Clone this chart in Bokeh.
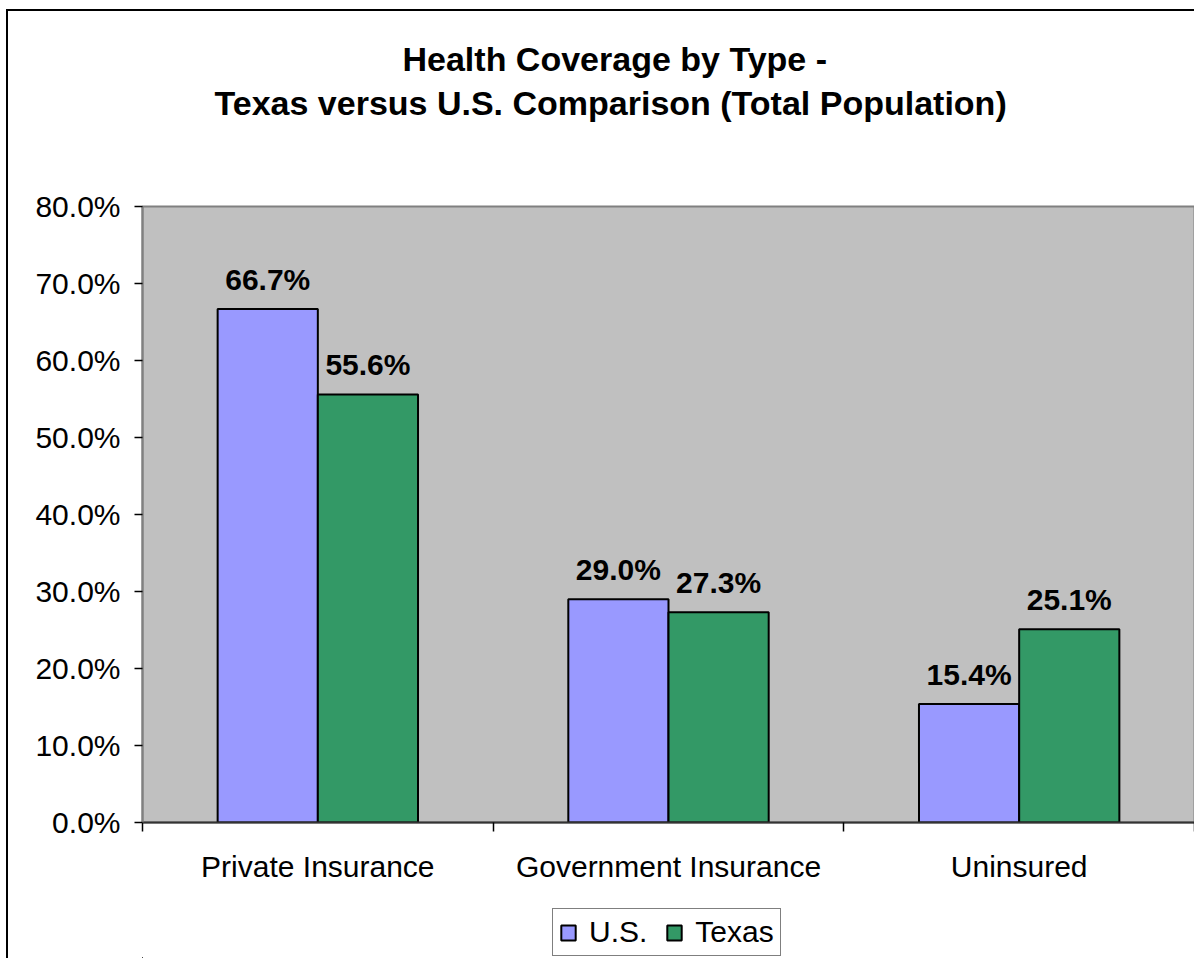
from bokeh.core.properties import value
from bokeh.plotting import figure
from bokeh.layouts import column
from bokeh.models import (ColumnDataSource, Range1d, FixedTicker, NumeralTickFormatter,
                          LabelSet, Legend, LegendItem, Title)
from bokeh.transform import dodge
from bokeh.embed import file_html
from bokeh.resources import INLINE

# ---------------- data ----------------
categories = ["Private Insurance", "Government Insurance", "Uninsured"]
series_names = ["U.S.", "Texas"]
us_values = [0.667, 0.290, 0.154]
texas_values = [0.556, 0.273, 0.251]
y_tick_values = [0.0, 0.1, 0.2, 0.3, 0.4, 0.5, 0.6, 0.7, 0.8]
title_lines = ["Health Coverage by Type -",
               "Texas versus U.S. Comparison (Total Population)"]

US_COLOR = "#9999FF"
TX_COLOR = "#339966"
FONT = "Liberation Sans"
BAR_STYLE = dict(line_color="black", line_width=2)

n = len(categories)
centers = [i + 0.5 for i in range(n)]
boundaries = [float(i) for i in range(n + 1)]
bar_w = 1 / 3.5

src = ColumnDataSource(dict(
    x=centers, cat=categories, us=us_values, tx=texas_values,
    us_lab=[f"{v * 100:.1f}%" for v in us_values],
    tx_lab=[f"{v * 100:.1f}%" for v in texas_values],
))

# ---------------- main chart ----------------
p = figure(width=1194, height=881, title=None,
           x_range=Range1d(0, n), y_range=Range1d(0, y_tick_values[-1]),
           output_backend="svg", toolbar_location=None,
           min_border_left=134, min_border_right=8,
           min_border_top=195, min_border_bottom=70)
# chart-area border: only its left and top edges are visible, slightly inset
p.styles = {"border-left": "6px solid white", "border-top": "9px solid white",
            "padding-left": "2px", "padding-top": "2px",
            "box-shadow": "inset 2px 2px 0 0 black"}

p.background_fill_color = "#C0C0C0"
p.border_fill_color = "white"
p.outline_line_color = "#808080"
p.outline_line_width = 2
p.xgrid.visible = False
p.ygrid.visible = False

# bars
p.vbar(x=dodge("x", -bar_w / 2), top="us", width=bar_w, source=src,
       fill_color=US_COLOR, **BAR_STYLE)
p.vbar(x=dodge("x", bar_w / 2), top="tx", width=bar_w, source=src,
       fill_color=TX_COLOR, **BAR_STYLE)

# data labels
for ycol, tcol, off in (("us", "us_lab", -bar_w / 2), ("tx", "tx_lab", bar_w / 2)):
    p.add_layout(LabelSet(x=dodge("x", off), y=ycol, text=tcol, source=src,
                          text_align="center", text_baseline="alphabetic", y_offset=19,
                          text_font=value(FONT), text_font_size="30px",
                          text_font_style="bold", text_color="black"))

# y axis
yax = p.yaxis[0]
yax.ticker = FixedTicker(ticks=y_tick_values, minor_ticks=[])
yax.formatter = NumeralTickFormatter(format="0.0%")
yax.axis_line_color = "#808080"
yax.axis_line_width = 2
yax.major_tick_line_color = "black"
yax.major_tick_line_width = 1.5
yax.major_tick_out = 8
yax.major_tick_in = 0
yax.minor_tick_line_color = None
yax.major_label_standoff = 14
yax.major_label_text_font = FONT
yax.major_label_text_font_size = "30px"
yax.major_label_text_color = "black"

# x axis: labels at category centres, tick marks at category boundaries
xax = p.xaxis[0]
xax.ticker = FixedTicker(ticks=centers, minor_ticks=boundaries)
xax.major_label_overrides = {c: lab for c, lab in zip(centers, categories)}
xax.major_tick_line_color = None
xax.major_tick_out = 8
xax.major_tick_in = 0
xax.minor_tick_line_color = "black"
xax.minor_tick_line_width = 1.5
xax.minor_tick_out = 9
xax.minor_tick_in = 0
xax.axis_line_color = "#333333"
xax.axis_line_width = 2
xax.major_label_standoff = 18
xax.major_label_text_font = FONT
xax.major_label_text_font_size = "30px"
xax.major_label_text_color = "black"

# titles (stacked outward from the frame: spacer, line 2, line 1)
p.add_layout(Title(text=" ", text_font_size="73px", standoff=0), "above")
p.add_layout(Title(text=title_lines[1], align="left", offset=72, standoff=4,
                   text_font=FONT, text_font_size="34px", text_font_style="bold",
                   text_color="black"), "above")
p.add_layout(Title(text=title_lines[0], align="left", offset=260, standoff=4,
                   text_font=FONT, text_font_size="34px", text_font_style="bold",
                   text_color="black"), "above")

# ---------------- legend strip ----------------
# The strip's ranges lie away from all data, so its bars stay out of view and
# serve only as legend glyph sources.
lg = figure(width=1194, height=77, x_range=Range1d(n + 1, n + 2),
            y_range=Range1d(y_tick_values[-1] + 1, y_tick_values[-1] + 2),
            x_axis_type=None, y_axis_type=None, output_backend="svg",
            toolbar_location=None, min_border=0)
lg.styles = {"border-left": "6px solid white", "padding-left": "2px",
             "box-shadow": "inset 2px 0 0 0 black"}
lg.outline_line_color = None
lg.background_fill_color = "white"
lg.border_fill_color = "white"
lr_us = lg.vbar(x=dodge("x", -bar_w / 2), top="us", width=bar_w, source=src,
                fill_color=US_COLOR, **BAR_STYLE)
lr_tx = lg.vbar(x=dodge("x", bar_w / 2), top="tx", width=bar_w, source=src,
                fill_color=TX_COLOR, **BAR_STYLE)

legend = Legend(items=[LegendItem(label=series_names[0], renderers=[lr_us]),
                       LegendItem(label=series_names[1], renderers=[lr_tx])],
                orientation="horizontal", location=(410, 2),
                glyph_width=18, glyph_height=19, label_standoff=12, spacing=18,
                padding=6, margin=0,
                label_text_font=FONT, label_text_font_size="30px",
                label_text_color="black",
                border_line_color="black", border_line_width=1.5,
                background_fill_color="white", background_fill_alpha=1.0)
lg.add_layout(legend, "center")

layout = column(p, lg, spacing=0)
open("out.html", "w").write(file_html(layout, INLINE))
